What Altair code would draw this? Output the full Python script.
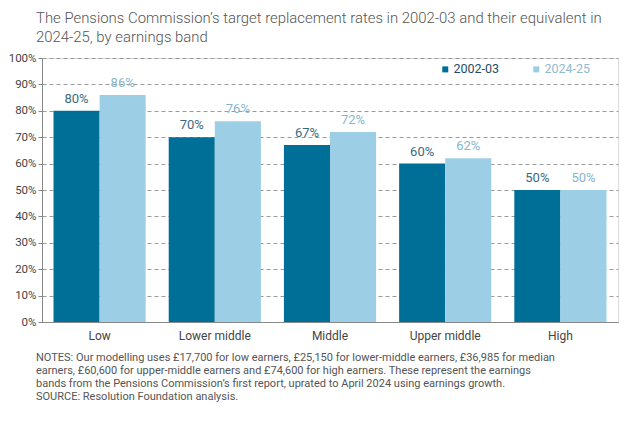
import altair as alt
import pandas as pd

categories = ["Low", "Lower middle", "Middle", "Upper middle", "High"]
series = ["2002-03", "2024-25"]
v2002 = [80, 70, 67, 60, 50]
v2024 = [86, 76, 72, 62, 50]

title_lines = [
    "The Pensions Commission\u2019s target replacement rates in 2002-03 and their equivalent in",
    "2024-25, by earnings band",
]
notes_lines = [
    "NOTES: Our modelling uses \u00a317,700 for low earners, \u00a325,150 for lower-middle earners, \u00a336,985 for median",
    "earners, \u00a360,600 for upper-middle earners and \u00a374,600 for high earners. These represent the earnings",
    "bands from the Pensions Commission\u2019s first report, uprated to April 2024 using earnings growth.",
    "SOURCE: Resolution Foundation analysis.",
]

rows = []
for c, a, b in zip(categories, v2002, v2024):
    rows.append({"band": c, "year": series[0], "value": a / 100})
    rows.append({"band": c, "year": series[1], "value": b / 100})
df = pd.DataFrame(rows)

FONT = "Roboto"
dark = "#006f98"
light = "#9ccfe6"
dark_lbl = "#3b6a80"
light_lbl = "#86b6cd"

x = alt.X("band:N", sort=categories, title=None,
          scale=alt.Scale(paddingInner=0.2, paddingOuter=0.1),
          axis=alt.Axis(labelAngle=0, ticks=False, domainColor="#888", labelColor="#444",
                        labelFontSize=12, labelFont=FONT, labelPadding=8))
y = alt.Y("value:Q", title=None,
          scale=alt.Scale(domain=[0, 1]),
          axis=alt.Axis(format=".0%", values=[i / 10 for i in range(11)],
                        gridDash=[4, 3], gridColor="#9a9a9a", domainColor="#888",
                        tickColor="#888", tickSize=4, labelColor="#444", labelFontSize=11.5,
                        labelFont=FONT, labelPadding=2))
xo = alt.XOffset("year:N", sort=series)

base = alt.Chart(df)

bars = base.mark_bar().encode(
    x=x, y=y, xOffset=xo,
    color=alt.Color("year:N", sort=series, title=None,
                    scale=alt.Scale(domain=series, range=[dark, light]),
                    legend=alt.Legend(orient="none", legendX=397, legendY=5, direction="horizontal",
                                      symbolType="square", symbolSize=36, symbolStrokeWidth=0,
                                      labelFontSize=12.5, labelFont=FONT, columnPadding=30,
                                      labelOffset=2,
                                      labelColor=alt.expr("datum.value == '2002-03' ? '#1f4f66' : '#8fbad0'"))),
)

labels = base.mark_text(baseline="bottom", dy=-5, fontSize=13, font=FONT).encode(
    x=x, y=y, xOffset=xo,
    text=alt.Text("value:Q", format=".0%"),
    color=alt.Color("year:N", sort=series, scale=alt.Scale(domain=series, range=[dark_lbl, light_lbl]),
                    legend=None),
)

notes = alt.Chart(pd.DataFrame({"t": [notes_lines]})).mark_text(
    align="left", baseline="top", fontSize=11, font=FONT, color="#555", lineHeight=13
).encode(x=alt.value(-6), y=alt.value(294), text="t:N")

chart = alt.layer(bars, labels, notes).resolve_scale(color="independent").properties(
    width=576, height=264,
    autosize=alt.AutoSizeParams(type="none"),
    padding={"left": 34, "top": 50, "right": 8, "bottom": 98},
    title=alt.TitleParams(title_lines, anchor="start", frame="group", fontSize=14.9, font=FONT,
                          fontWeight=300, color="#555", dx=-6, offset=7, lineHeight=19),
).configure_view(stroke=None).configure(background="white")

chart.save("out.html", embed_options={"renderer": "svg", "actions": False})
